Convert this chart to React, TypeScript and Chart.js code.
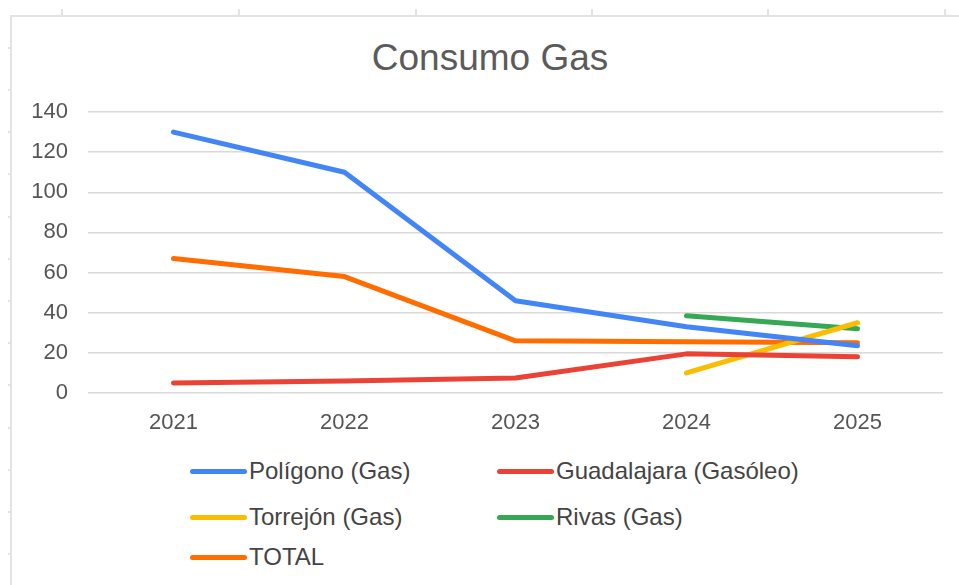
import React, { useEffect, useRef } from "react";
import { Chart, registerables } from "chart.js";

Chart.register(...registerables);

const years = ["2021", "2022", "2023", "2024", "2025"];
const poligono = [130, 110, 46, 33, 23.5];
const guadalajara = [5, 6, 7.5, 19.5, 18];
const torrejon = [null, null, null, 10, 35];
const rivas = [null, null, null, 38.5, 32];
const total = [67, 58, 26, 25.5, 25];
const yTicks = [0, 20, 40, 60, 80, 100, 120, 140];

const chartTitle = "Consumo Gas";
const seriesNames = ["Polígono (Gas)", "Guadalajara (Gasóleo)", "Torrejón (Gas)", "Rivas (Gas)", "TOTAL"];
const seriesColors = ["#4285F4", "#EA4335", "#FBBC04", "#34A853", "#FF6D01"];
const seriesData = [poligono, guadalajara, torrejon, rivas, total];

const FONT = "'Liberation Sans', Arial, sans-serif";

export default function App() {
  const ref = useRef<HTMLCanvasElement | null>(null);

  useEffect(() => {
    if (!ref.current) return;
    const chart = new Chart(ref.current, {
      type: "line",
      data: {
        labels: years,
        datasets: seriesNames.map((n, i) => ({
          label: n,
          data: seriesData[i] as any,
          borderColor: seriesColors[i],
          backgroundColor: seriesColors[i],
          borderWidth: 5,
          pointRadius: 0,
          tension: 0,
          borderCapStyle: "round" as const,
          borderJoinStyle: "round" as const,
          fill: false,
        })),
      },
      options: {
        animation: false,
        responsive: false,
        maintainAspectRatio: false,
        layout: { padding: { left: 0, right: 16, top: 112, bottom: 0 } },
        plugins: {
          legend: { display: false },
          tooltip: { enabled: false },
          title: { display: false },
        },
        scales: {
          x: {
            offset: true,
            grid: { display: false, drawTicks: false },
            border: { display: false },
            ticks: {
              color: "#555555",
              font: { family: FONT, size: 22 },
              padding: 17,
              maxRotation: 0,
            },
            afterFit: (s: any) => {
              s.height = 57;
            },
          },
          y: {
            min: 0,
            max: 140,
            afterBuildTicks: (s: any) => {
              s.ticks = yTicks.map((v) => ({ value: v }));
            },
            grid: { color: "#d9d9d9", lineWidth: 1.5, drawTicks: false },
            border: { display: false },
            ticks: {
              color: "#555555",
              font: { family: FONT, size: 22 },
              padding: 20,
            },
            afterFit: (s: any) => {
              s.width = 88;
            },
          },
        },
      },
    });
    return () => chart.destroy();
  }, []);

  const leftTicks: number[] = [];
  for (let k = 0; k < 13; k++) leftTicks.push(47.7 + 42.2 * k);
  const topTicks = [62, 239, 416, 592, 768, 945];

  const legendPos = [
    { x: 190, y: 471 },
    { x: 497, y: 471 },
    { x: 190, y: 517 },
    { x: 497, y: 517 },
    { x: 190, y: 557 },
  ];

  return (
    <div style={{ position: "fixed", left: 0, top: 0, width: 959, height: 585, background: "#ffffff", overflow: "hidden" }}>
      <div style={{ position: "absolute", left: 10, top: 15, width: 949, height: 2, background: "#e3e3e3" }} />
      <div style={{ position: "absolute", left: 10, top: 15, width: 2, height: 570, background: "#e3e3e3" }} />
      {topTicks.map((x) => (
        <div key={"t" + x} style={{ position: "absolute", left: x - 1, top: 9, width: 2, height: 6, background: "#e3e3e3" }} />
      ))}
      {leftTicks.map((y) => (
        <div key={"l" + y} style={{ position: "absolute", left: 8, top: y - 1, width: 2, height: 2, background: "#e3e3e3" }} />
      ))}
      <div
        style={{
          position: "absolute",
          left: 290,
          width: 400,
          top: 36,
          height: 44,
          lineHeight: "44px",
          textAlign: "center",
          fontFamily: FONT,
          fontSize: 37,
          color: "#5b5b5b",
          whiteSpace: "nowrap",
        }}
      >
        {chartTitle}
      </div>
      <canvas ref={ref} width={959} height={450} style={{ position: "absolute", left: 0, top: 0, width: 959, height: 450 }} />
      {seriesNames.map((n, i) => (
        <div
          key={n}
          style={{
            position: "absolute",
            left: legendPos[i].x,
            top: legendPos[i].y - 15,
            height: 30,
            display: "flex",
            alignItems: "center",
            fontFamily: FONT,
            fontSize: 24,
            color: "#444444",
            whiteSpace: "nowrap",
          }}
        >
          <span style={{ display: "inline-block", width: 57, height: 5, borderRadius: 3, background: seriesColors[i], marginRight: 2 }} />
          <span>{n}</span>
        </div>
      ))}
    </div>
  );
}
